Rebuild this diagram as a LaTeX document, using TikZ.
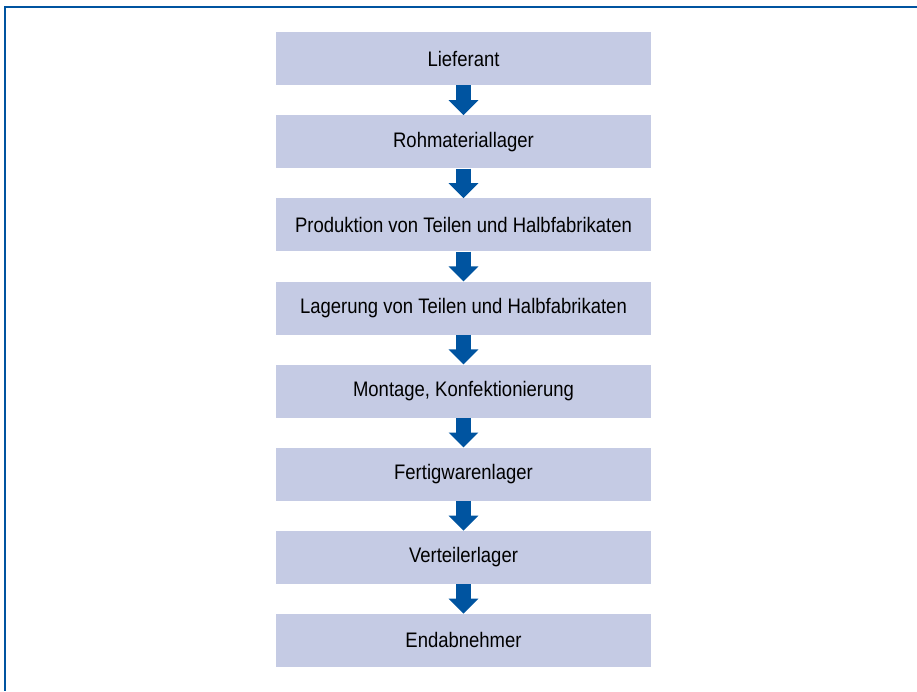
\documentclass[tikz,border=0pt]{standalone}
\usepackage{fontspec}
\setmainfont{Liberation Sans}[FakeStretch=0.88]
\usetikzlibrary{arrows.meta}
\definecolor{boxfill}{RGB}{197,203,228}
\definecolor{flowblue}{RGB}{0,84,160}
\begin{document}
\begin{tikzpicture}[x=1pt,y=-1pt,
  stage/.style={fill=boxfill,draw=none,minimum width=375pt,minimum height=53pt,inner sep=0pt,
    font=\fontsize{21}{25}\selectfont,anchor=north},
  flow/.style={draw=flowblue,line width=15pt,-{Triangle[width=29pt,length=15pt]}}]
\useasboundingbox (0,0) rectangle (917,691);
\coordinate (tl) at (4.5,6.5);
\coordinate (tr) at (917,6.5);
\coordinate (bl) at (4.5,691);
\draw[flowblue,line width=2pt] (tr) -- (tl) -- (bl);
\def\pitch{83.1}
\node[stage] (s1) at (463.5,32) {Lieferant};
\node[stage] (s2) at (463.5,32+\pitch) {Rohmateriallager};
\node[stage] (s3) at (463.5,32+2*\pitch) {Produktion von Teilen und Halbfabrikaten};
\node[stage] (s4) at (463.5,32+3*\pitch) {Lagerung von Teilen und Halbfabrikaten};
\node[stage] (s5) at (463.5,32+4*\pitch) {Montage, Konfektionierung};
\node[stage] (s6) at (463.5,32+5*\pitch) {Fertigwarenlager};
\node[stage] (s7) at (463.5,32+6*\pitch) {Verteilerlager};
\node[stage] (s8) at (463.5,32+7*\pitch) {Endabnehmer};
\foreach \a/\b in {s1/s2,s2/s3,s3/s4,s4/s5,s5/s6,s6/s7,s7/s8}
  \draw[flow] (\a.south) -- (\b.north);
\end{tikzpicture}
\end{document}
